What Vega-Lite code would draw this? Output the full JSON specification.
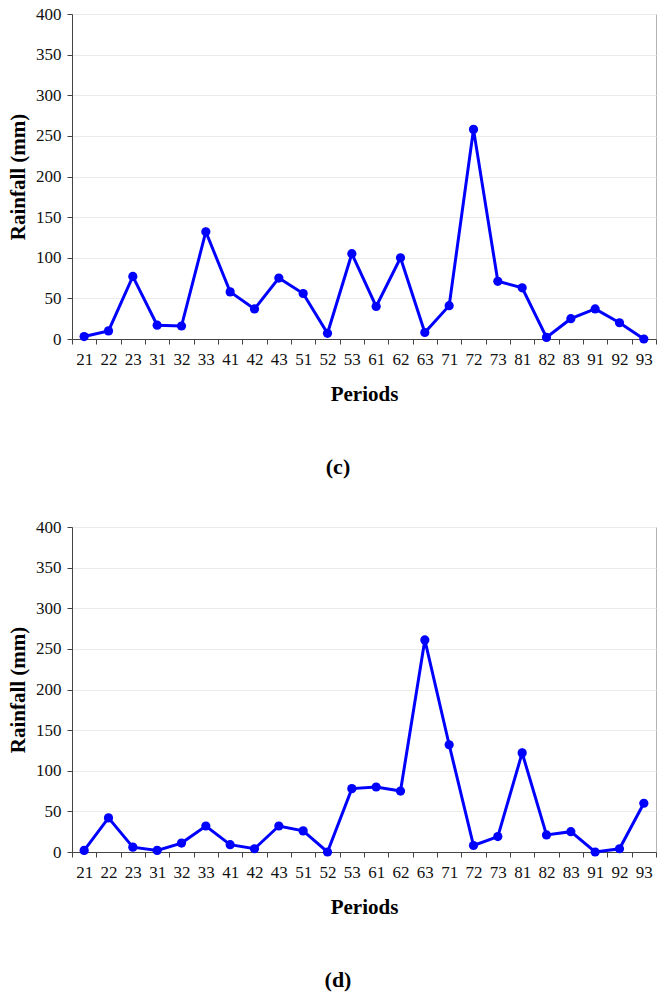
{
  "$schema": "https://vega.github.io/schema/vega-lite/v6.json",
  "padding": {"left": 7, "top": 4, "right": 8, "bottom": 5},
  "background": "white",
  "data": {"values": [
    {"panel": "c", "period": "21", "rain": 3},
    {"panel": "c", "period": "22", "rain": 10},
    {"panel": "c", "period": "23", "rain": 77},
    {"panel": "c", "period": "31", "rain": 17},
    {"panel": "c", "period": "32", "rain": 16},
    {"panel": "c", "period": "33", "rain": 132},
    {"panel": "c", "period": "41", "rain": 58},
    {"panel": "c", "period": "42", "rain": 37},
    {"panel": "c", "period": "43", "rain": 75},
    {"panel": "c", "period": "51", "rain": 56},
    {"panel": "c", "period": "52", "rain": 7},
    {"panel": "c", "period": "53", "rain": 105},
    {"panel": "c", "period": "61", "rain": 40},
    {"panel": "c", "period": "62", "rain": 100},
    {"panel": "c", "period": "63", "rain": 8},
    {"panel": "c", "period": "71", "rain": 41},
    {"panel": "c", "period": "72", "rain": 258},
    {"panel": "c", "period": "73", "rain": 71},
    {"panel": "c", "period": "81", "rain": 63},
    {"panel": "c", "period": "82", "rain": 2},
    {"panel": "c", "period": "83", "rain": 25},
    {"panel": "c", "period": "91", "rain": 37},
    {"panel": "c", "period": "92", "rain": 20},
    {"panel": "c", "period": "93", "rain": 0},
    {"panel": "d", "period": "21", "rain": 2},
    {"panel": "d", "period": "22", "rain": 42},
    {"panel": "d", "period": "23", "rain": 6},
    {"panel": "d", "period": "31", "rain": 2},
    {"panel": "d", "period": "32", "rain": 11},
    {"panel": "d", "period": "33", "rain": 32},
    {"panel": "d", "period": "41", "rain": 9},
    {"panel": "d", "period": "42", "rain": 4},
    {"panel": "d", "period": "43", "rain": 32},
    {"panel": "d", "period": "51", "rain": 26},
    {"panel": "d", "period": "52", "rain": 0},
    {"panel": "d", "period": "53", "rain": 78},
    {"panel": "d", "period": "61", "rain": 80},
    {"panel": "d", "period": "62", "rain": 75},
    {"panel": "d", "period": "63", "rain": 261},
    {"panel": "d", "period": "71", "rain": 132},
    {"panel": "d", "period": "72", "rain": 8},
    {"panel": "d", "period": "73", "rain": 19},
    {"panel": "d", "period": "81", "rain": 122},
    {"panel": "d", "period": "82", "rain": 21},
    {"panel": "d", "period": "83", "rain": 25},
    {"panel": "d", "period": "91", "rain": 0},
    {"panel": "d", "period": "92", "rain": 4},
    {"panel": "d", "period": "93", "rain": 60}
  ]},
  "spacing": 38,
  "vconcat": [
    {
      "width": 584,
      "height": 325,
      "title": {"text": "(c)", "orient": "bottom", "anchor": "middle", "dx": -26, "offset": 53, "font": "Liberation Serif", "fontSize": 22, "fontWeight": "bold", "color": "black"},
      "transform": [{"filter": "datum.panel == 'c'"}],
      "encoding": {
        "x": {"field": "period", "type": "ordinal", "sort": null, "title": "Periods",
              "axis": {"labelAngle": 0, "tickBand": "extent", "grid": false}},
        "y": {"field": "rain", "type": "quantitative", "title": "Rainfall (mm)",
              "scale": {"domain": [0, 400]},
              "axis": {"values": [0, 50, 100, 150, 200, 250, 300, 350, 400]}}
      },
      "layer": [
        {"mark": {"type": "line", "color": "#0000ff", "strokeWidth": 3}},
        {"mark": {"type": "point", "filled": true, "opacity": 1, "color": "#0000ff", "size": 85}}
      ]
    },
    {
      "width": 584,
      "height": 325,
      "title": {"text": "(d)", "orient": "bottom", "anchor": "middle", "dx": -26, "offset": 53, "font": "Liberation Serif", "fontSize": 22, "fontWeight": "bold", "color": "black"},
      "transform": [{"filter": "datum.panel == 'd'"}],
      "encoding": {
        "x": {"field": "period", "type": "ordinal", "sort": null, "title": "Periods",
              "axis": {"labelAngle": 0, "tickBand": "extent", "grid": false}},
        "y": {"field": "rain", "type": "quantitative", "title": "Rainfall (mm)",
              "scale": {"domain": [0, 400]},
              "axis": {"values": [0, 50, 100, 150, 200, 250, 300, 350, 400]}}
      },
      "layer": [
        {"mark": {"type": "line", "color": "#0000ff", "strokeWidth": 3}},
        {"mark": {"type": "point", "filled": true, "opacity": 1, "color": "#0000ff", "size": 85}}
      ]
    }
  ],
  "config": {
    "view": {"stroke": "#b4b4b4"},
    "scale": {"bandPaddingInner": 0, "bandPaddingOuter": 0},
    "axis": {
      "labelFont": "Liberation Serif", "labelFontSize": 17, "labelColor": "#111",
      "titleFont": "Liberation Serif", "titleFontSize": 21, "titleFontWeight": "bold", "titleColor": "#000",
      "domainColor": "#444", "tickColor": "#444", "tickSize": 5, "labelPadding": 6,
      "gridColor": "#ebebeb", "gridWidth": 1
    },
    "axisX": {"labelPadding": 7, "titlePadding": 16},
    "axisY": {"titlePadding": 7}
  }
}
